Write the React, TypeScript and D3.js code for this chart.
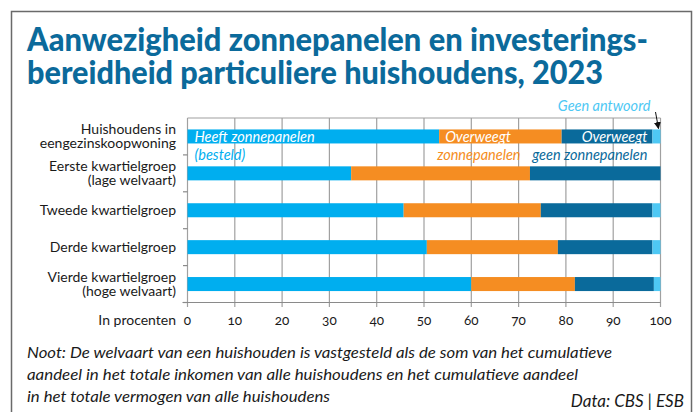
import React from "react";
import * as d3 from "d3";

const categories = [
  ["Huishoudens in", "eengezinskoopwoning"],
  ["Eerste kwartielgroep", "(lage welvaart)"],
  ["Tweede kwartielgroep"],
  ["Derde kwartielgroep"],
  ["Vierde kwartielgroep", "(hoge welvaart)"],
];
const seriesKeys = ["heeft", "overweegt", "geen", "antwoord"];
const heeft = [53.2, 34.6, 45.7, 50.6, 60.0];
const overweegt = [25.9, 37.8, 29.0, 27.7, 21.9];
const overweegtGeen = [19.2, 27.6, 23.6, 20.0, 16.7];
const geenAntwoord = [1.7, 0, 1.7, 1.7, 1.4];
const xTicks = [0, 10, 20, 30, 40, 50, 60, 70, 80, 90, 100];

const titleLines = [
  "Aanwezigheid zonnepanelen en investerings-",
  "bereidheid particuliere huishoudens, 2023",
];
const titleWidths = [621, 576];
const noteLines = [
  "Noot: De welvaart van een huishouden is vastgesteld als de som van het cumulatieve",
  "aandeel in het totale inkomen van alle huishoudens en het cumulatieve aandeel",
  "in het totale vermogen van alle huishoudens",
];
const noteWidths = [585, 551, 303];
const source = "Data: CBS | ESB";

const COLORS = ["#00aeef", "#f58d22", "#0a6a9b", "#4ec8f4"];
const TITLE = "#0b6a9b";
const FONT = "Lato, 'Open Sans', sans-serif";

export default function App() {
  const W = 698, H = 412;
  const x = d3.scaleLinear().domain([0, 100]).range([187.5, 660.5]);
  const ids = categories.map((_, i) => String(i));
  const y = d3.scaleBand().domain(ids).range([118, 302.5]).paddingInner(0.62).paddingOuter(0.31);
  const rows = ids.map((id, i) => ({
    id,
    heeft: heeft[i],
    overweegt: overweegt[i],
    geen: overweegtGeen[i],
    antwoord: geenAntwoord[i],
  }));
  const stacked = d3.stack<any>().keys(seriesKeys)(rows);
  const step = y.step();
  const top = y.range()[0];
  const bottom = y.range()[1];
  const bw = y.bandwidth();
  const y0 = y("0")!;
  const seg = (k: number) => stacked[k][0];

  return (
    <svg width={W} height={H} style={{ position: "absolute", left: 0, top: 0 }} fontFamily={FONT}>
      <rect x={0} y={0} width={W} height={H} fill="#fff" />
      <rect x={11.5} y={11.5} width={680} height={430} fill="none" stroke="#6a6a6a" strokeWidth={1.5} />
      {titleLines.map((t, i) => (
        <text key={i} x={27} y={51 + i * 33} fill={TITLE} fontSize={32} fontWeight={900}
          textLength={titleWidths[i]} lengthAdjust="spacingAndGlyphs">{t}</text>
      ))}

      {/* grid */}
      {xTicks.map((t) => (
        <line key={"g" + t} x1={x(t)} x2={x(t)} y1={top} y2={bottom + 4.5} stroke="#a0a0a0" strokeWidth={1.2} />
      ))}
      <line x1={x(0)} x2={x(100)} y1={top} y2={top} stroke="#a0a0a0" strokeWidth={1.2} />
      <line x1={x(0) - 5} x2={x(100)} y1={bottom} y2={bottom} stroke="#8a8a8a" strokeWidth={1.2} />
      {ids.map((_, i) => (
        <line key={"yt" + i} x1={x(0) - 4.5} x2={x(0)} y1={top + (i + 1) * step} y2={top + (i + 1) * step} stroke="#8a8a8a" strokeWidth={1.2} />
      ))}

      {/* bars */}
      {stacked.map((s, k) => (
        <g key={k} fill={COLORS[k]}>
          {s.map((d: any, i: number) => (
            <rect key={i} x={x(d[0])} y={y(ids[i])!} width={Math.max(0, x(d[1]) - x(d[0]))} height={bw} />
          ))}
        </g>
      ))}

      {/* category labels */}
      {categories.map((lines, i) => {
        const cy = y(ids[i])! + bw / 2;
        const lh = 14;
        const start = cy - ((lines.length - 1) * lh) / 2;
        return (
          <text key={i} x={176} textAnchor="end" fontSize={14} fill="#1a1a1a">
            {lines.map((l, j) => (
              <tspan key={j} x={176} y={start + j * lh} dy="0.35em">{l}</tspan>
            ))}
          </text>
        );
      })}

      {/* tick labels */}
      {xTicks.map((t) => (
        <text key={"t" + t} x={x(t)} y={320} dy="0.35em" textAnchor="middle" fontSize={13.5} fill="#1a1a1a"
          style={{ fontVariantNumeric: "oldstyle-nums" }}>{t}</text>
      ))}
      <text x={176} y={320} dy="0.35em" textAnchor="end" fontSize={14} fill="#1a1a1a">In procenten</text>

      {/* inline legend */}
      <g fontStyle="italic" fontSize={14.5}>
        <text x={x(seg(0)[0]) + 7} y={y0 + bw / 2} dy="0.35em" fill="#fff">Heeft zonnepanelen</text>
        <text x={x(seg(0)[0]) + 7} y={y0 + bw + 11} dy="0.35em" fill={COLORS[0]}>(besteld)</text>
        <text x={x(seg(1)[0]) + 6} y={y0 + bw / 2} dy="0.35em" fill="#fff">Overweegt</text>
        <text x={x(seg(1)[0]) - 2} y={y0 + bw + 11} dy="0.35em" fill={COLORS[1]}>zonnepanelen</text>
        <text x={x(seg(2)[1]) - 5} y={y0 + bw / 2} dy="0.35em" textAnchor="end" fill="#fff">Overweegt</text>
        <text x={x(seg(2)[1]) - 5} y={y0 + bw + 11} dy="0.35em" textAnchor="end" fill={COLORS[2]}>geen zonnepanelen</text>
        <text x={x(seg(3)[1]) - 10} y={106} dy="0.35em" textAnchor="end" fill={COLORS[3]}>Geen antwoord</text>
      </g>
      <defs>
        <marker id="ah" viewBox="0 0 10 10" refX="9" refY="5" markerWidth="7" markerHeight="7" orient="auto">
          <path d="M0,0 L10,5 L0,10 z" fill="#111" />
        </marker>
      </defs>
      <line x1={x(seg(3)[1]) - 5} y1={112} x2={x(seg(3)[1]) - 2} y2={y0 - 1} stroke="#111" strokeWidth={1} markerEnd="url(#ah)" />

      {/* note */}
      <g fontStyle="italic" fontSize={16} fill="#1a1a1a">
        {noteLines.map((l, i) => (
          <text key={i} x={27} y={352 + i * 22} dy="0.35em" textLength={noteWidths[i]} lengthAdjust="spacingAndGlyphs">{l}</text>
        ))}
      </g>
      <text x={684} y={401} dy="0.35em" textAnchor="end" fontStyle="italic" fontSize={17} fill="#1a1a1a">{source}</text>
    </svg>
  );
}
